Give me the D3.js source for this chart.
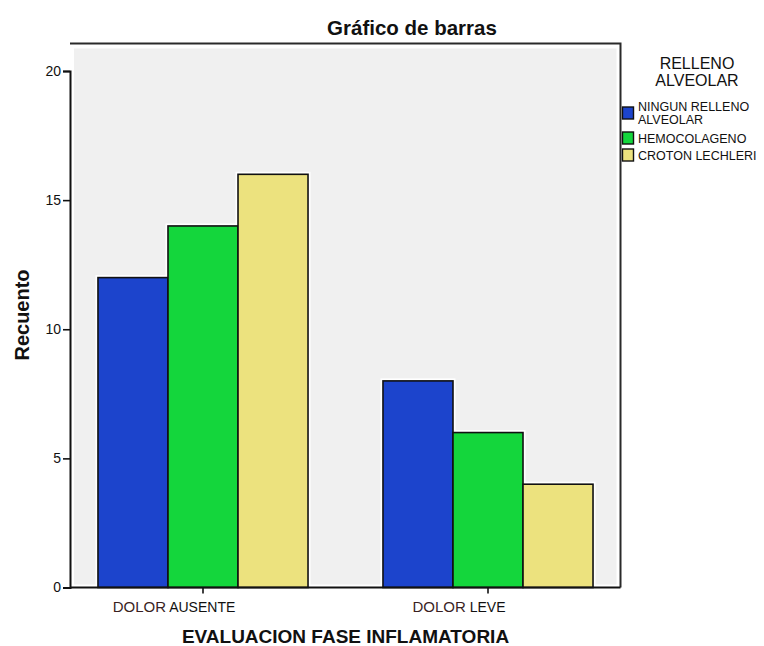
<!DOCTYPE html>
<html>
<head>
<meta charset="utf-8">
<script src="https://cdn.jsdelivr.net/npm/d3@7"></script>
<style>
  html, body { margin: 0; padding: 0; background: #ffffff; }
  svg { display: block; font-family: "Liberation Sans", Arial, sans-serif; }
</style>
</head>
<body>
<svg id="chart" width="764" height="646"></svg>
<script>
// ---- data ----
const categories = ["DOLOR AUSENTE", "DOLOR LEVE"];
const seriesNames = ["NINGUN RELLENO ALVEOLAR", "HEMOCOLAGENO", "CROTON LECHLERI"];
const ningunValues = [12, 8];
const hemocolagenoValues = [14, 6];
const crotonValues = [16, 4];
const yTickValues = [0, 5, 10, 15, 20];
const legendLabels = [["NINGUN RELLENO", "ALVEOLAR"], ["HEMOCOLAGENO"], ["CROTON LECHLERI"]];
const seriesColors = ["#1c44cc", "#14d63c", "#ece27e"];

const seriesValues = [ningunValues, hemocolagenoValues, crotonValues];

const svg = d3.select("#chart");

// frame / plot geometry
const frame = { left: 70, top: 43.5, right: 620.5, bottom: 587.5 };

const x = d3.scaleBand()
  .domain(categories)
  .range([60.5, 630.5])
  .paddingInner(0.263)
  .paddingOuter(0.1315);

const xs = d3.scaleBand()
  .domain(seriesNames)
  .range([0, x.bandwidth()]);

const y = d3.scaleLinear()
  .domain([0, 20])
  .range([frame.bottom, 71]);

// grey plotting background with white inset
svg.append("rect")
  .attr("x", frame.left + 4).attr("y", frame.top + 5)
  .attr("width", frame.right - frame.left - 8)
  .attr("height", frame.bottom - frame.top - 8)
  .attr("fill", "#f0f0f0");

// bars
const groups = svg.append("g").selectAll("g")
  .data(categories)
  .join("g")
  .attr("transform", d => `translate(${x(d)},0)`);

const barData = (c, ci) => seriesNames.map((s, si) => ({ s, si, v: seriesValues[si][ci] }));

groups.each(function(c, ci) {
  const g = d3.select(this);
  const data = barData(c, ci);
  // white halo
  g.selectAll("rect.halo").data(data).join("rect")
    .attr("class", "halo")
    .attr("x", d => xs(d.s))
    .attr("y", d => y(d.v))
    .attr("width", xs.bandwidth())
    .attr("height", d => y(0) - y(d.v))
    .attr("fill", "none")
    .attr("stroke", "#ffffff")
    .attr("stroke-width", 5);
  g.selectAll("rect.bar").data(data).join("rect")
    .attr("class", "bar")
    .attr("x", d => xs(d.s))
    .attr("y", d => y(d.v))
    .attr("width", xs.bandwidth())
    .attr("height", d => y(0) - y(d.v))
    .attr("fill", d => seriesColors[d.si])
    .attr("stroke", "#111111")
    .attr("stroke-width", 1.6);
});

// frame (top and right lines)
svg.append("path")
  .attr("d", `M${frame.left},${frame.top}H${frame.right}V${frame.bottom}`)
  .attr("fill", "none")
  .attr("stroke", "#2a2a2a")
  .attr("stroke-width", 2);

// y axis
const yAxis = svg.append("g")
  .attr("transform", `translate(${frame.left},0)`)
  .call(d3.axisLeft(y).tickValues(yTickValues).tickSize(7).tickPadding(2));
yAxis.select(".domain").attr("stroke", "#111").attr("stroke-width", 2);
yAxis.selectAll(".tick line").attr("stroke", "#111").attr("stroke-width", 1.6);
yAxis.selectAll(".tick text")
  .attr("font-size", 14)
  .attr("fill", "#111")
  .attr("font-family", "Liberation Sans, Arial, sans-serif");

// x axis
const xAxis = svg.append("g")
  .attr("transform", `translate(0,${frame.bottom})`)
  .call(d3.axisBottom(x).tickSize(6).tickSizeOuter(0));
xAxis.select(".domain").attr("stroke", "#111").attr("stroke-width", 2)
  .attr("d", `M${frame.left},0H${frame.right}`);
xAxis.selectAll(".tick line").attr("stroke", "#111").attr("stroke-width", 1.6);
xAxis.selectAll(".tick text").each(function(d) {
  const t = d3.select(this);
  const parts = d.split(" ");
  t.text(null)
    .attr("x", -29)
    .attr("y", 24)
    .attr("dy", 0)
    .attr("text-anchor", "middle")
    .attr("font-family", "Liberation Sans, Arial, sans-serif");
  t.append("tspan").text(parts[0]).attr("fill", "#3a1f1f").attr("font-size", 15);
  t.append("tspan").text(" " + parts.slice(1).join(" ")).attr("fill", "#111").attr("font-size", 14);
});

// titles
svg.append("text")
  .attr("x", 412).attr("y", 35)
  .attr("text-anchor", "middle")
  .attr("font-size", 20.5).attr("font-weight", "bold")
  .attr("fill", "#111")
  .text("Gráfico de barras");

svg.append("text")
  .attr("transform", "translate(29,315) rotate(-90)")
  .attr("text-anchor", "middle")
  .attr("font-size", 20).attr("font-weight", "bold")
  .attr("fill", "#111")
  .text("Recuento");

svg.append("text")
  .attr("x", 345.5).attr("y", 643)
  .attr("text-anchor", "middle")
  .attr("font-size", 19).attr("font-weight", "bold")
  .attr("fill", "#111")
  .text("EVALUACION FASE INFLAMATORIA");

// legend
const legend = svg.append("g");
legend.append("text")
  .attr("x", 697).attr("y", 69)
  .attr("text-anchor", "middle")
  .attr("font-size", 16).attr("fill", "#111")
  .text("RELLENO");
legend.append("text")
  .attr("x", 697).attr("y", 86)
  .attr("text-anchor", "middle")
  .attr("font-size", 16).attr("fill", "#111")
  .text("ALVEOLAR");

const legendTop = [107, 132, 149];
seriesNames.forEach((s, i) => {
  legend.append("rect")
    .attr("x", 622.5).attr("y", legendTop[i])
    .attr("width", 11).attr("height", 12)
    .attr("fill", seriesColors[i])
    .attr("stroke", "#111").attr("stroke-width", 1.4);
  legendLabels[i].forEach((line, li) => {
    legend.append("text")
      .attr("x", 638).attr("y", legendTop[i] + 4 + 13 * li + (legendLabels[i].length > 1 ? 0 : 7))
      .attr("font-size", 12.5).attr("fill", "#111")
      .text(line);
  });
});
</script>
</body>
</html>
